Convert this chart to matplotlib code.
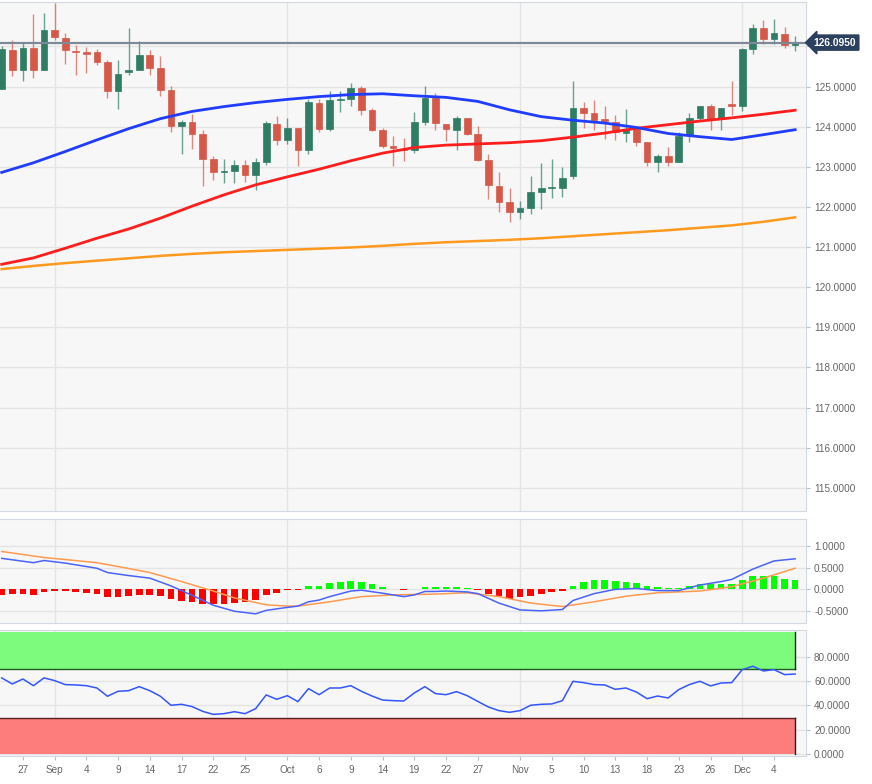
import matplotlib
matplotlib.use("Agg")
import matplotlib.pyplot as plt
import numpy as np

plt.rcParams['font.family'] = ['Liberation Sans', 'DejaVu Sans']

# Daily OHLC (trading-day index 0..75)
opens = [124.94, 125.91, 125.40, 125.97, 125.42, 126.42, 126.22, 125.88, 125.85, 125.87,
         125.62, 124.88, 125.35, 125.42, 125.775, 125.46, 124.925, 124.025, 124.11, 123.82,
         123.19, 122.87, 122.90, 123.04, 122.80, 123.11, 124.07, 123.675, 123.97, 123.42,
         124.59, 123.95, 124.67, 124.69, 124.97, 124.425, 123.925, 123.525, 123.45, 123.425,
         124.11, 124.72, 124.07, 123.925, 124.22, 123.825, 123.16, 122.53, 122.12, 121.87,
         121.97, 122.38, 122.47, 122.47, 122.76, 124.47, 124.34, 124.19, 124.12, 123.85,
         123.94, 123.63, 123.11, 123.275, 123.12, 123.80, 124.22, 124.51, 124.19, 124.57,
         124.525, 125.925, 126.47, 126.175, 126.30, 126.025]
highs = [126.01, 126.16, 126.11, 126.80, 126.84, 127.07, 126.33, 126.04, 125.98, 125.94,
         125.65, 125.65, 126.47, 126.13, 125.90, 125.76, 125.025, 124.16, 124.32, 123.925,
         123.28, 123.20, 123.17, 123.17, 123.21, 124.13, 124.26, 124.22, 123.97, 124.69,
         124.70, 124.88, 124.88, 125.09, 125.025, 124.47, 123.97, 123.775, 123.72, 124.36,
         125.01, 124.84, 124.07, 124.26, 124.22, 124.01, 123.32, 122.88, 122.47, 122.15,
         122.76, 123.09, 123.20, 122.99, 125.13, 124.61, 124.675, 124.51, 124.30, 124.44,
         123.97, 123.63, 123.325, 123.49, 123.86, 124.34, 124.525, 124.57, 124.47, 125.13,
         125.97, 126.57, 126.66, 126.69, 126.49, 126.26]
lows = [124.93, 125.275, 125.14, 125.21, 125.41, 126.16, 125.57, 125.30, 125.33, 125.53,
        124.71, 124.44, 125.28, 125.41, 125.30, 124.76, 123.86, 123.32, 123.45, 122.525,
        122.66, 122.59, 122.59, 122.61, 122.41, 123.04, 123.54, 123.57, 123.01, 123.32,
        123.86, 123.88, 124.37, 124.525, 124.30, 123.90, 123.47, 123.025, 123.14, 123.34,
        124.03, 123.925, 123.65, 123.425, 123.80, 123.15, 122.19, 121.88, 121.62, 121.70,
        121.825, 121.95, 122.22, 122.24, 122.70, 123.97, 123.91, 123.70, 123.675, 123.63,
        123.525, 123.025, 122.86, 123.025, 123.11, 123.63, 124.16, 123.925, 123.91, 124.30,
        124.38, 125.80, 126.05, 126.07, 125.97, 125.88]
closes = [125.925, 125.40, 125.97, 125.42, 126.42, 126.23, 125.90, 125.86, 125.80, 125.62,
          124.88, 125.325, 125.40, 125.775, 125.47, 124.925, 124.01, 124.11, 123.825, 123.20,
          122.86, 122.90, 123.04, 122.80, 123.11, 124.09, 123.675, 123.97, 123.42, 124.61,
          123.95, 124.675, 124.69, 124.97, 124.425, 123.91, 123.51, 123.47, 123.43, 124.11,
          124.72, 124.09, 123.95, 124.22, 123.825, 123.175, 122.55, 122.13, 121.87, 121.97,
          122.38, 122.47, 122.48, 122.72, 124.47, 124.34, 124.175, 124.13, 123.86, 123.925,
          123.63, 123.11, 123.275, 123.12, 123.775, 124.22, 124.51, 124.19, 124.47, 124.525,
          125.925, 126.47, 126.175, 126.34, 126.025, 126.095]

# Moving averages read at every third session
ma_idx = [0, 3, 6, 9, 12, 15, 18, 21, 24, 27, 30, 33, 36, 39, 42, 45, 48, 51, 54, 57,
          60, 63, 66, 69, 72, 75]
sma_fast = [122.86, 123.10, 123.38, 123.67, 123.95, 124.20, 124.38, 124.50, 124.60, 124.68,
            124.75, 124.80, 124.82, 124.77, 124.73, 124.63, 124.42, 124.25, 124.16, 124.09,
            123.98, 123.83, 123.75, 123.68, 123.80, 123.925]
sma_mid = [120.57, 120.73, 120.97, 121.22, 121.45, 121.72, 122.02, 122.30, 122.55, 122.75,
           122.94, 123.15, 123.34, 123.48, 123.54, 123.57, 123.60, 123.65, 123.74, 123.84,
           123.96, 124.05, 124.14, 124.22, 124.31, 124.41]
sma_slow = [120.45, 120.53, 120.60, 120.66, 120.72, 120.78, 120.83, 120.87, 120.90, 120.93,
            120.96, 120.99, 121.03, 121.08, 121.12, 121.15, 121.18, 121.22, 121.27, 121.32,
            121.37, 121.42, 121.48, 121.54, 121.63, 121.74]

# MACD
macd_hist = [-0.13, -0.11, -0.11, -0.13, -0.07, -0.05, -0.05, -0.07, -0.08, -0.11,
             -0.17, -0.17, -0.16, -0.13, -0.14, -0.16, -0.23, -0.27, -0.29, -0.33,
             -0.35, -0.35, -0.31, -0.29, -0.25, -0.14, -0.08, -0.02, -0.01, 0.07,
             0.08, 0.14, 0.16, 0.20, 0.17, 0.12, 0.06, 0.01, -0.02, 0.01,
             0.06, 0.06, 0.06, 0.05, 0.02, -0.02, -0.10, -0.16, -0.22, -0.19,
             -0.16, -0.12, -0.07, -0.05, 0.08, 0.16, 0.21, 0.22, 0.19, 0.18,
             0.14, 0.08, 0.05, 0.02, 0.04, 0.08, 0.13, 0.13, 0.13, 0.13,
             0.21, 0.30, 0.31, 0.30, 0.24, 0.22]
macd_idx = [0, 3, 4, 6, 9, 10, 12, 14, 16, 18, 20, 22, 24, 25, 27, 28, 29, 30, 31, 33,
            34, 36, 38, 39, 40, 41, 42, 44, 45, 47, 49, 51, 53, 54, 56, 58, 60, 62, 64, 66,
            68, 69, 71, 73, 75]
macd_line = [0.72, 0.62, 0.67, 0.61, 0.49, 0.39, 0.32, 0.26, 0.08, -0.14, -0.37, -0.51,
             -0.57, -0.49, -0.42, -0.39, -0.29, -0.25, -0.17, -0.04, -0.02, -0.09, -0.17,
             -0.13, -0.05, -0.05, -0.04, -0.06, -0.10, -0.32, -0.48, -0.50, -0.47, -0.26,
             -0.10, 0.00, 0.02, -0.03, -0.03, 0.10, 0.18, 0.23, 0.47, 0.66, 0.71]
signal_idx = [0, 4, 9, 11, 14, 17, 20, 22, 25, 27, 28, 31, 34, 37, 41, 44, 47, 50, 53,
              56, 59, 62, 66, 69, 72, 75]
signal_line = [0.88, 0.74, 0.62, 0.53, 0.39, 0.18, -0.04, -0.20, -0.36, -0.39, -0.39,
               -0.29, -0.17, -0.13, -0.11, -0.08, -0.17, -0.32, -0.40, -0.29, -0.16,
               -0.08, -0.04, 0.06, 0.26, 0.49]

# RSI
rsi = [62.6, 57.6, 61.7, 56.2, 62.6, 60.4, 57.1, 56.8, 56.2, 54.3,
       47.5, 51.6, 52.1, 55.4, 52.1, 47.5, 40.1, 40.9, 39.0, 35.1,
       32.6, 33.2, 34.8, 33.2, 37.3, 48.6, 45.0, 48.0, 43.1, 53.8,
       48.8, 54.3, 54.3, 56.2, 51.6, 47.7, 44.4, 43.9, 43.6, 50.2,
       55.4, 49.7, 48.8, 51.3, 48.0, 43.3, 38.7, 35.7, 34.3, 35.7,
       40.1, 40.9, 41.2, 43.9, 59.8, 58.7, 57.1, 56.8, 53.2, 54.3,
       51.0, 45.5, 47.7, 46.1, 53.0, 57.1, 59.8, 56.0, 58.4, 58.7,
       69.4, 72.2, 68.3, 69.4, 65.3, 65.8]

tick_pos = [2, 5, 8, 11, 14, 17, 20, 23, 27, 30, 33, 36, 39, 42, 45, 49, 52, 55, 58,
            61, 64, 67, 70, 73]
tick_labels = ['27', 'Sep', '4', '9', '14', '17', '22', '25', 'Oct', '6', '9', '14', '19',
               '22', '27', 'Nov', '5', '10', '13', '18', '23', '26', 'Dec', '4']
month_pos = [5, 27, 49, 70]
last_price = 126.095

GREEN = '#2e7d64'
RED = '#d65848'
BG = '#f7f7f7'
GRID = '#e4e4e4'
SPINE = '#d3d9e4'
LABEL = '#666666'

fig = plt.figure(figsize=(8.72, 7.84), dpi=100)
ax_p = fig.add_axes([0.0, 0.3486, 0.924, 0.6485])
ax_m = fig.add_axes([0.0, 0.2057, 0.924, 0.1319])
ax_r = fig.add_axes([0.0, 0.0351, 0.924, 0.1609])

xmin, xmax = -0.16, 76.0
for ax in (ax_p, ax_m, ax_r):
    ax.set_facecolor(BG)
    ax.set_xlim(xmin, xmax)
    ax.yaxis.tick_right()
    ax.tick_params(axis='y', length=3, color='#b8c0cc', labelcolor=LABEL, labelsize=7.2, pad=3)
    for s in ('top', 'right', 'bottom'):
        ax.spines[s].set_color(SPINE)
    ax.spines['left'].set_visible(False)
    ax.set_axisbelow(True)
    ax.grid(axis='y', color=GRID, lw=1)
    for m in month_pos:
        ax.axvline(m, color=GRID, lw=1, zorder=0)

# --- price panel ---
x = np.arange(len(opens))
for i in x:
    o, h, l, c = opens[i], highs[i], lows[i], closes[i]
    col = GREEN if c >= o else RED
    ax_p.vlines(i, l, h, color=col, lw=1, alpha=0.7, zorder=2)
    bottom = min(o, c)
    height = max(abs(c - o), 0.02)
    ax_p.bar(i, height, bottom=bottom, width=0.63, color=col, edgecolor=col,
             linewidth=0.5, zorder=3)

ax_p.plot(ma_idx, sma_slow, color='#ff9a1f', lw=1.8, zorder=4, solid_joinstyle='round')
ax_p.plot(ma_idx, sma_mid, color='#ff1e1e', lw=2, zorder=4, solid_joinstyle='round')
ax_p.plot(ma_idx, sma_fast, color='#1f3cff', lw=2, zorder=4, solid_joinstyle='round')
ax_p.axhline(last_price, color='#7d8899', lw=1.6, zorder=5)

ax_p.set_ylim(114.43, 127.1)
yt = list(range(115, 127))
ax_p.set_yticks(yt)
ax_p.set_yticklabels(['%.4f' % v if v != 126 else '' for v in yt])
ax_p.set_xticks([])
ax_p.text(1.010, last_price, '%.4f' % last_price, transform=ax_p.get_yaxis_transform(),
          color='white', fontsize=7.4, fontweight='bold', va='center', ha='left',
          bbox=dict(boxstyle='larrow,pad=0.25', fc='#2b3f5e', ec='#2b3f5e'),
          clip_on=False, zorder=10)

# --- MACD panel ---
hist_cols = ['#00ff00' if v >= 0 else '#ff0000' for v in macd_hist]
ax_m.bar(x, macd_hist, width=0.63, color=hist_cols, zorder=2)
ax_m.plot(signal_idx, signal_line, color='#ff9a50', lw=1.1, zorder=3)
ax_m.plot(macd_idx, macd_line, color='#4a63ff', lw=1.1, zorder=3)
ax_m.set_ylim(-0.777, 1.628)
mt = [-0.5, 0.0, 0.5, 1.0]
ax_m.set_yticks(mt)
ax_m.set_yticklabels(['%.4f' % v for v in mt])
ax_m.set_xticks([])

# --- RSI panel ---
ax_r.fill_between([xmin, 75], 70, 100, color='#7dfb7d', zorder=1, lw=0)
ax_r.fill_between([xmin, 75], 0, 30, color='#fd7d7d', zorder=1, lw=0)
ax_r.plot([xmin, 75], [70, 70], color='#1d5a1d', lw=1, zorder=2)
ax_r.plot([xmin, 75], [30, 30], color='#5a2020', lw=1, zorder=2)
ax_r.plot([75, 75], [70, 100], color='#222222', lw=1, zorder=2)
ax_r.plot([75, 75], [0, 30], color='#222222', lw=1, zorder=2)
ax_r.plot(x, rsi, color='#3355ff', lw=1.1, zorder=3)
ax_r.set_ylim(-2.0, 101.7)
rt = [0, 20, 40, 60, 80]
ax_r.set_yticks(rt)
ax_r.set_yticklabels(['%.4f' % v for v in rt])
ax_r.set_xticks(tick_pos)
ax_r.set_xticklabels(tick_labels)
ax_r.tick_params(axis='x', length=3, color='#b8c0cc', labelcolor=LABEL, labelsize=7.2, pad=3)

fig.savefig('out.png', dpi=100)
